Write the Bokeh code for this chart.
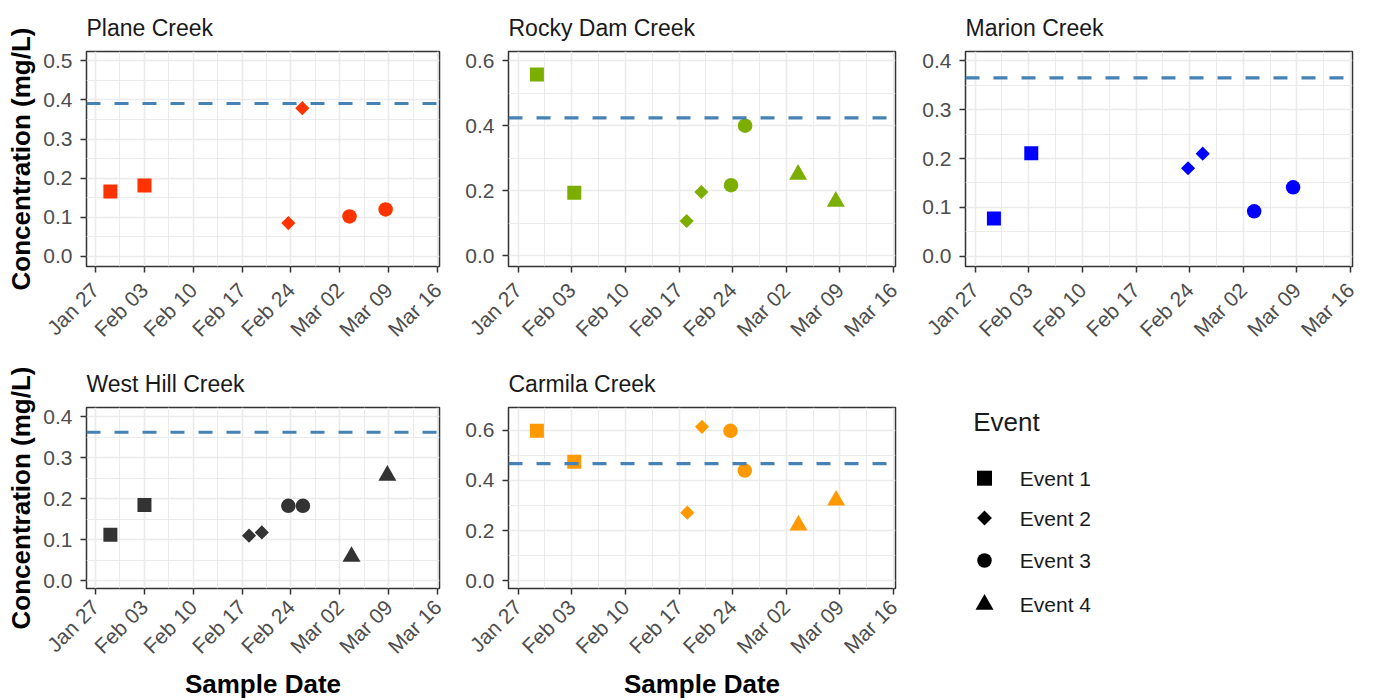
import math
import pandas as pd
from bokeh.plotting import figure
from bokeh.layouts import row, column
from bokeh.models import (Range1d, FixedTicker, DatetimeTickFormatter,
                          PrintfTickFormatter, Span, ColumnDataSource)
from bokeh.core.properties import value
from bokeh.embed import file_html
from bokeh.resources import INLINE

FONT = "Liberation Sans"

# ---------------- data ----------------
x_tick_dates = ["2020-01-27", "2020-02-03", "2020-02-10", "2020-02-17",
                "2020-02-24", "2020-03-02", "2020-03-09", "2020-03-16"]
event_names = ["Event 1", "Event 2", "Event 3", "Event 4"]

creek_names = ["Plane Creek", "Rocky Dam Creek", "Marion Creek",
               "West Hill Creek", "Carmila Creek"]
creek_colors = ["#FF3300", "#7CAE00", "#0000FF", "#333333", "#FF9900"]
thresholds = [0.391, 0.424, 0.365, 0.3625, 0.4665]

plane_dates = ["2020-01-29 04:00", "2020-02-03 01:00", "2020-02-23 15:00",
               "2020-02-25 15:00", "2020-03-03 09:00", "2020-03-08 13:00"]
plane_values = [0.166, 0.181, 0.085, 0.379, 0.102, 0.120]
plane_events = ["Event 1", "Event 1", "Event 2", "Event 2", "Event 3", "Event 3"]

rocky_dates = ["2020-01-29 11:00", "2020-02-03 08:00", "2020-02-18 00:00",
               "2020-02-19 22:00", "2020-02-23 19:00", "2020-02-25 15:00",
               "2020-03-03 13:00", "2020-03-08 11:00"]
rocky_values = [0.557, 0.194, 0.107, 0.196, 0.217, 0.400, 0.250, 0.167]
rocky_events = ["Event 1", "Event 1", "Event 2", "Event 2",
                "Event 3", "Event 3", "Event 4", "Event 4"]

marion_dates = ["2020-01-29 11:00", "2020-02-03 08:00", "2020-02-23 19:00",
                "2020-02-25 17:00", "2020-03-03 10:00", "2020-03-08 12:00"]
marion_values = [0.077, 0.211, 0.180, 0.210, 0.092, 0.141]
marion_events = ["Event 1", "Event 1", "Event 2", "Event 2", "Event 3", "Event 3"]

westhill_dates = ["2020-01-29 04:00", "2020-02-03 01:00", "2020-02-18 00:00",
                  "2020-02-19 20:00", "2020-02-23 15:00", "2020-02-25 17:00",
                  "2020-03-03 16:00", "2020-03-08 19:00"]
westhill_values = [0.112, 0.185, 0.110, 0.118, 0.183, 0.183, 0.059, 0.257]
westhill_events = ["Event 1", "Event 1", "Event 2", "Event 2",
                   "Event 3", "Event 3", "Event 4", "Event 4"]

carmila_dates = ["2020-01-29 11:00", "2020-02-03 08:00", "2020-02-18 02:00",
                 "2020-02-20 00:00", "2020-02-23 17:00", "2020-02-25 14:00",
                 "2020-03-03 14:00", "2020-03-08 12:00"]
carmila_values = [0.597, 0.474, 0.271, 0.613, 0.597, 0.439, 0.221, 0.320]
carmila_events = ["Event 1", "Event 1", "Event 2", "Event 2",
                  "Event 3", "Event 3", "Event 4", "Event 4"]

# y axis: (low, high, major ticks, minor ticks)
y_axes = [
    (-0.026, 0.524, [0.0, 0.1, 0.2, 0.3, 0.4, 0.5], [0.05, 0.15, 0.25, 0.35, 0.45]),
    (-0.033, 0.628, [0.0, 0.2, 0.4, 0.6], [0.1, 0.3, 0.5]),
    (-0.021, 0.419, [0.0, 0.1, 0.2, 0.3, 0.4], [0.05, 0.15, 0.25, 0.35]),
    (-0.019, 0.423, [0.0, 0.1, 0.2, 0.3, 0.4], [0.05, 0.15, 0.25, 0.35]),
    (-0.031, 0.690, [0.0, 0.2, 0.4, 0.6], [0.1, 0.3, 0.5]),
]

# ---------------- styling ----------------
EV_MARKER = {"Event 1": "square", "Event 2": "square",
             "Event 3": "circle", "Event 4": "triangle"}
EV_ANGLE = {"Event 1": 0.0, "Event 2": math.pi / 4, "Event 3": 0.0, "Event 4": 0.0}
EV_SIZE = {"Event 1": 14, "Event 2": 10, "Event 3": 14.5, "Event 4": 18}

day = pd.Timedelta(days=1)
tick_ts = [pd.Timestamp(d) for d in x_tick_dates]
major_ms = [t.value // 10**6 for t in tick_ts]
minor_ms = [(t + 3.5 * day).value // 10**6 for t in tick_ts[:-1]]
x_start = tick_ts[0] - 1.25 * day
x_end = tick_ts[-1] + 0.25 * day


def base_fig(frame_w, frame_h, bl, br, bt, bb, **kw):
    return figure(frame_width=frame_w, frame_height=frame_h,
                  output_backend="svg", toolbar_location=None,
                  min_border_left=bl, min_border_right=br,
                  min_border_top=bt, min_border_bottom=bb, **kw)


def panel(i, dates, vals, events, frame_w, frame_h, bl, br, bt, bb,
          x_standoff, ylabel=None, xlabel=None):
    ylo, yhi, yt, ymt = y_axes[i]
    color = creek_colors[i]
    p = base_fig(frame_w, frame_h, bl, br, bt, bb,
                 x_axis_type="datetime",
                 x_range=Range1d(x_start, x_end), y_range=Range1d(ylo, yhi),
                 title=creek_names[i])
    p.title.text_font = FONT
    p.title.text_font_size = "23px"
    p.title.text_font_style = "normal"
    p.title.text_color = "#1A1A1A"
    p.title.align = "left"
    p.title.standoff = 21

    p.xaxis.ticker = FixedTicker(ticks=major_ms, minor_ticks=minor_ms)
    fmt = "%b %d"
    p.xaxis.formatter = DatetimeTickFormatter(
        milliseconds=fmt, seconds=fmt, minsec=fmt, minutes=fmt, hourmin=fmt,
        hours=fmt, days=fmt, months=fmt, years=fmt)
    p.xaxis.major_label_orientation = math.pi / 4
    p.yaxis.ticker = FixedTicker(ticks=yt, minor_ticks=ymt)
    p.yaxis.formatter = PrintfTickFormatter(format="%.1f")

    for ax in (p.xaxis, p.yaxis):
        ax.axis_line_color = None
        ax.major_tick_line_color = "#333333"
        ax.major_tick_line_width = 1.5
        ax.major_tick_out = 6
        ax.major_tick_in = 0
        ax.minor_tick_out = 0
        ax.minor_tick_in = 0
        ax.major_label_text_font = FONT
        ax.major_label_text_font_size = "21px"
        ax.major_label_text_color = "#4D4D4D"
        ax.axis_label_text_font = FONT
        ax.axis_label_text_font_size = "26px"
        ax.axis_label_text_font_style = "bold"
        ax.axis_label_text_color = "#000000"
    p.yaxis.major_label_standoff = 8
    p.xaxis.major_label_standoff = x_standoff
    if ylabel:
        p.yaxis.axis_label = ylabel
        p.yaxis.axis_label_standoff = 4
    if xlabel:
        p.xaxis.axis_label = xlabel
        p.xaxis.axis_label_standoff = 0

    for g in (p.xgrid, p.ygrid):
        g.grid_line_color = "#EBEBEB"
        g.grid_line_width = 1.6
        g.minor_grid_line_color = "#EBEBEB"
        g.minor_grid_line_width = 1.0

    p.outline_line_color = "#333333"
    p.outline_line_width = 1.5

    src = ColumnDataSource(dict(
        date=pd.to_datetime(dates), value=vals,
        marker=[EV_MARKER[e] for e in events],
        angle=[EV_ANGLE[e] for e in events],
        size=[EV_SIZE[e] for e in events]))
    p.scatter(x="date", y="value", source=src, marker="marker", angle="angle",
              size="size", fill_color=color, line_color=None)

    p.add_layout(Span(location=thresholds[i], dimension="width",
                      line_color="#4682B4", line_width=3.2, line_dash="14 14"))
    return p


YL = "Concentration (mg/L)"
XL = "Sample Date"

p1 = panel(0, plane_dates, plane_values, plane_events, 353, 215, 86, 12, 51, 86, 14, ylabel=YL)
p2 = panel(1, rocky_dates, rocky_values, rocky_events, 387, 215, 57, 13, 51, 86, 14)
p3 = panel(2, marion_dates, marion_values, marion_events, 387, 215, 57, 12, 51, 86, 14)
p4 = panel(3, westhill_dates, westhill_values, westhill_events, 353, 181, 86, 12, 55, 111, 9,
           ylabel=YL, xlabel=XL)
p5 = panel(4, carmila_dates, carmila_values, carmila_events, 387, 181, 57, 13, 55, 111, 9,
           xlabel=XL)

# ---------------- legend panel (same frame geometry as its row) ----------------
leg = base_fig(387, 181, 57, 12, 55, 111,
               x_range=Range1d(0, 387), y_range=Range1d(181, 0),
               x_axis_location=None, y_axis_location=None)
leg.grid.visible = False
leg.outline_line_color = None

legend_key_y = [70.7, 110.5, 153.0, 197.0]   # key centres, px below frame top
leg_src = ColumnDataSource(dict(
    x=[19] * len(event_names), tx=[54.3] * len(event_names), y=legend_key_y,
    label=event_names,
    marker=[EV_MARKER[e] for e in event_names],
    angle=[-EV_ANGLE[e] for e in event_names],
    size=[15, 10.5, 14.5, 18]))
r1 = leg.scatter(x="x", y="y", source=leg_src, marker="marker", angle="angle",
                 size="size", fill_color="black", line_color=None)
r2 = leg.text(x="tx", y="y", text="label", source=leg_src, text_font=value(FONT),
              text_font_size="21px", text_baseline="middle", text_align="left",
              text_color="#1A1A1A")
r3 = leg.text(x=[7.7], y=[14], text=["Event"], text_font=value(FONT),
              text_font_size="26px", text_baseline="middle", text_align="left",
              text_color="#1A1A1A")
for r in (r1, r2, r3):
    r.level = "overlay"

layout = column(row(p1, p2, p3), row(p4, p5, leg))

open("out.html", "w").write(file_html(layout, INLINE))
